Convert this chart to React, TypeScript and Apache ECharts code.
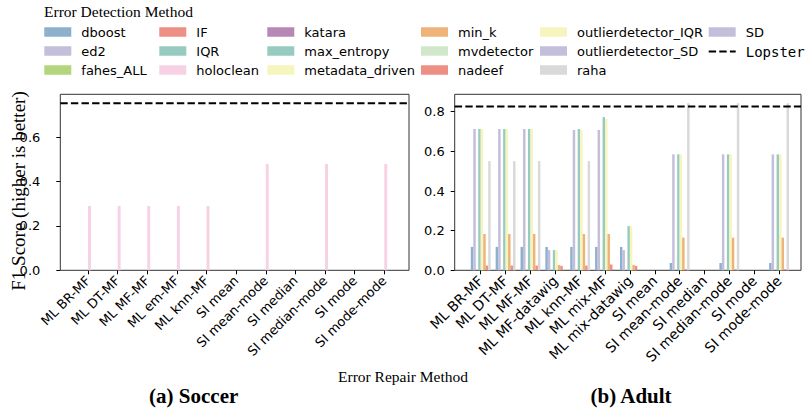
import React, { useEffect, useRef } from "react";
import * as echarts from "echarts";

// ---------- data ----------
const soccerCategories = [
  "ML BR-MF", "ML DT-MF", "ML MF-MF", "ML em-MF", "ML knn-MF",
  "SI mean", "SI mean-mode", "SI median", "SI median-mode", "SI mode", "SI mode-mode",
];
const adultCategories = [
  "ML BR-MF", "ML DT-MF", "ML MF-MF", "ML MF-datawig", "ML knn-MF", "ML mix-MF",
  "ML mix-datawig", "SI mean", "SI mean-mode", "SI median", "SI median-mode", "SI mode", "SI mode-mode",
];

// Soccer (hue order as drawn in each group)
const soccerMethods = ["IF", "IQR", "katara", "mvdetector", "holoclean", "outlierdetector_IQR", "outlierdetector_SD", "SD"];
const soccerIF = [0, 0, 0, 0, 0, 0, 0, 0, 0, 0, 0];
const soccerIQR = [0, 0, 0, 0, 0, 0, 0, 0, 0, 0, 0];
const soccerKatara = [0, 0, 0, 0, 0, 0, 0, 0, 0, 0, 0];
const soccerMvdetector = [0, 0, 0, 0, 0, 0, 0, 0, 0, 0, 0];
const soccerHoloclean = [0.29, 0.29, 0.29, 0.29, 0.29, 0, 0.48, 0, 0.48, 0, 0.48];
const soccerOutlierIQR = [0, 0, 0, 0, 0, 0, 0, 0, 0, 0, 0];
const soccerOutlierSD = [0, 0, 0, 0, 0, 0, 0, 0, 0, 0, 0];
const soccerSD = [0, 0, 0, 0, 0, 0, 0, 0, 0, 0, 0];
const soccerValues = [soccerIF, soccerIQR, soccerKatara, soccerMvdetector, soccerHoloclean, soccerOutlierIQR, soccerOutlierSD, soccerSD];

// Adult
const adultMethods = ["dboost", "ed2", "fahes_ALL", "max_entropy", "metadata_driven", "min_k", "nadeef", "raha"];
const adultDboost = [0.118, 0.118, 0.118, 0.118, 0.118, 0.118, 0.118, 0, 0.037, 0, 0.037, 0, 0.037];
const adultEd2 = [0.713, 0.713, 0.713, 0.102, 0.708, 0.708, 0.102, 0, 0.585, 0, 0.585, 0, 0.585];
const adultFahes = [0, 0, 0, 0, 0, 0, 0, 0, 0, 0, 0, 0, 0];
const adultMaxEntropy = [0.713, 0.713, 0.713, 0.102, 0.713, 0.773, 0.223, 0, 0.585, 0, 0.585, 0, 0.585];
const adultMetadata = [0.713, 0.713, 0.713, 0.102, 0.708, 0.763, 0.223, 0, 0.585, 0, 0.585, 0, 0.585];
const adultMinK = [0.183, 0.183, 0.183, 0.027, 0.183, 0.183, 0.027, 0, 0.165, 0, 0.165, 0, 0.165];
const adultNadeef = [0.024, 0.024, 0.024, 0.022, 0.024, 0.029, 0.022, 0, 0.005, 0, 0.005, 0, 0.005];
const adultRaha = [0.551, 0.551, 0.551, 0, 0.551, 0, 0, 0, 0.843, 0, 0.843, 0, 0.843];
const adultValues = [adultDboost, adultEd2, adultFahes, adultMaxEntropy, adultMetadata, adultMinK, adultNadeef, adultRaha];

const lopsterSoccer = 0.754;
const lopsterAdult = 0.827;

const soccerYMax = 0.794;
const adultYMax = 0.888;
const soccerYTicks = [0, 0.2, 0.4, 0.6];
const adultYTicks = [0, 0.2, 0.4, 0.6, 0.8];

const legendColumns = [
  ["dboost", "ed2", "fahes_ALL"],
  ["IF", "IQR", "holoclean"],
  ["katara", "max_entropy", "metadata_driven"],
  ["min_k", "mvdetector", "nadeef"],
  ["outlierdetector_IQR", "outlierdetector_SD", "raha"],
  ["SD", "Lopster"],
];

const methodColors: Record<string, string> = {
  dboost: "#8db0cd",
  ed2: "#c3bfdb",
  fahes_ALL: "#b3d57c",
  IF: "#ee8f85",
  IQR: "#98cbc0",
  holoclean: "#f7d2e4",
  katara: "#b788b6",
  max_entropy: "#98cbc0",
  metadata_driven: "#f6f5bd",
  min_k: "#eeb378",
  mvdetector: "#d0e7cb",
  nadeef: "#ee8f85",
  outlierdetector_IQR: "#f6f5bd",
  outlierdetector_SD: "#c3bfdb",
  raha: "#d9d9d9",
  SD: "#c3bfdb",
};

// ---------- layout ----------
const SERIF = "Liberation Serif";
const SANS = "DejaVu Sans";
const TOP = 94.3;
const HEIGHT = 176;
const soccerFrame = { left: 60.3, width: 348.7 };
const soccerData = { left: 73.2, width: 325.9 };
const adultFrame = { left: 454.7, width: 346.3 };
const adultData = { left: 468.3, width: 323.2 };
const legendLefts = [44.3, 159.3, 267.3, 421, 540, 707.7];

export default function App() {
  const ref = useRef<HTMLDivElement>(null);

  useEffect(() => {
    document.body.style.margin = "0";
    if (!ref.current) return;
    const chart = echarts.init(ref.current, null, { renderer: "svg" });

    const frameGrid = (f: { left: number; width: number }) => ({
      left: f.left, top: TOP, width: f.width, height: HEIGHT,
      show: true, borderColor: "#333", borderWidth: 1, backgroundColor: "transparent",
    });
    const dataGrid = (d: { left: number; width: number }) => ({
      left: d.left, top: TOP, width: d.width, height: HEIGHT, show: false,
    });

    const visibleY = (gridIndex: number, max: number, ticks: number[], margin: number) => ({
      type: "value", gridIndex, min: 0, max, interval: 0.2,
      axisLine: { show: false },
      splitLine: { show: false },
      axisTick: { show: true, length: 4, lineStyle: { color: "#000" }, customValues: ticks },
      axisLabel: {
        customValues: ticks, margin, fontFamily: SANS, fontSize: 13, color: "#000",
        formatter: (v: number) => v.toFixed(1),
      },
    });
    const hiddenY = (gridIndex: number, max: number) => ({
      type: "value", gridIndex, min: 0, max, show: false,
    });
    const catX = (gridIndex: number, data: string[], fontSize: number) => ({
      type: "category", gridIndex, data,
      axisLine: { show: false },
      axisTick: { show: true, alignWithLabel: true, length: 4, lineStyle: { color: "#000" } },
      axisLabel: { interval: 0, rotate: 45, fontFamily: SANS, fontSize, color: "#000", margin: 8 },
    });
    const hiddenX = (gridIndex: number) => ({ type: "value", gridIndex, min: 0, max: 1, show: false });

    const barSeries = (methods: string[], values: number[][], xi: number, yi: number) =>
      methods.map((m, i) => ({
        type: "bar", name: m, xAxisIndex: xi, yAxisIndex: yi,
        data: values[i], barGap: "0%", barCategoryGap: "20%",
        itemStyle: { color: methodColors[m] },
      }));

    const lopster = (v: number, xi: number, yi: number) => ({
      type: "line", name: "Lopster", xAxisIndex: xi, yAxisIndex: yi,
      data: [[0, v], [1, v]], symbol: "none", z: 5,
      lineStyle: { color: "#000", width: 2, type: [7.4, 3.2] },
      itemStyle: { color: "#000" },
    });

    const legends = legendColumns.map((names, i) => ({
      orient: "vertical", left: legendLefts[i], top: 25.5, padding: 0,
      itemWidth: 27, itemHeight: 9.5, itemGap: 6, selectedMode: false,
      textStyle: { fontFamily: SANS, fontSize: 13, color: "#000", lineHeight: 13, padding: [0, 0, 0, 5] },
      data: names.map((n) =>
        n === "Lopster"
          ? {
              name: n,
              itemStyle: { opacity: 0 },
              textStyle: { fontFamily: "DejaVu Sans Mono", fontSize: 14, lineHeight: 13, color: "#000" },
            }
          : { name: n, icon: "rect" }
      ),
    }));

    const option = {
      animation: false,
      legend: legends,
      grid: [frameGrid(soccerFrame), dataGrid(soccerData), frameGrid(adultFrame), dataGrid(adultData)],
      xAxis: [hiddenX(0), catX(1, soccerCategories, 13), hiddenX(2), catX(3, adultCategories, 14)],
      yAxis: [
        visibleY(0, soccerYMax, soccerYTicks, 20),
        hiddenY(1, soccerYMax),
        visibleY(2, adultYMax, adultYTicks, 10),
        hiddenY(3, adultYMax),
      ],
      series: [
        ...barSeries(soccerMethods, soccerValues, 1, 1),
        ...barSeries(adultMethods, adultValues, 3, 3),
        lopster(lopsterSoccer, 0, 0),
        lopster(lopsterAdult, 2, 2),
      ],
      graphic: [
        {
          type: "text", left: 44, top: 3.5,
          style: { text: "Error Detection Method", fontFamily: SERIF, fontSize: 15.5, fill: "#000" },
        },
        {
          type: "text", x: 18, y: 191, rotation: Math.PI / 2,
          style: {
            text: "F1 Score (higher is better)", fontFamily: SERIF, fontSize: 19, fill: "#000",
            align: "center", verticalAlign: "middle",
          },
        },
        {
          type: "text", x: 403, y: 376,
          style: {
            text: "Error Repair Method", fontFamily: SERIF, fontSize: 15.5, fill: "#000",
            align: "center", verticalAlign: "middle",
          },
        },
        {
          type: "text", x: 193.7, y: 396,
          style: {
            text: "(a) Soccer", fontFamily: SERIF, fontSize: 21, fontWeight: "bold", fill: "#000",
            align: "center", verticalAlign: "middle",
          },
        },
        {
          type: "text", x: 631, y: 396,
          style: {
            text: "(b) Adult", fontFamily: SERIF, fontSize: 21, fontWeight: "bold", fill: "#000",
            align: "center", verticalAlign: "middle",
          },
        },
      ],
    };

    chart.setOption(option as any);
    return () => chart.dispose();
  }, []);

  return <div ref={ref} style={{ width: 807, height: 410 }} />;
}
